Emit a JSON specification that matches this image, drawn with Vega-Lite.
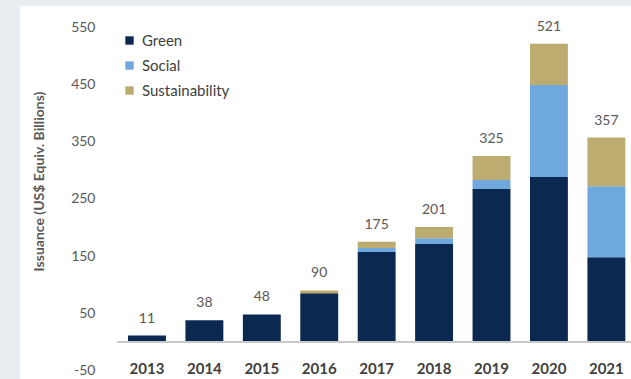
{
  "$schema": "https://vega.github.io/schema/vega-lite/v6.json",
  "width": 611,
  "height": 373,
  "autosize": {"type": "none"},
  "padding": {"left": 20, "top": 6, "right": 0, "bottom": 0},
  "background": "#e9edf1",
  "config": {
    "view": {"fill": "white", "stroke": null},
    "font": "Lato"
  },
  "data": {
    "values": [
      {"year": "2013", "type": "Green", "value": 11},
      {"year": "2014", "type": "Green", "value": 38},
      {"year": "2015", "type": "Green", "value": 48},
      {"year": "2016", "type": "Green", "value": 85},
      {"year": "2016", "type": "Sustainability", "value": 5},
      {"year": "2017", "type": "Green", "value": 157},
      {"year": "2017", "type": "Social", "value": 7},
      {"year": "2017", "type": "Sustainability", "value": 11},
      {"year": "2018", "type": "Green", "value": 171},
      {"year": "2018", "type": "Social", "value": 10},
      {"year": "2018", "type": "Sustainability", "value": 20},
      {"year": "2019", "type": "Green", "value": 267},
      {"year": "2019", "type": "Social", "value": 16},
      {"year": "2019", "type": "Sustainability", "value": 42},
      {"year": "2020", "type": "Green", "value": 288},
      {"year": "2020", "type": "Social", "value": 161},
      {"year": "2020", "type": "Sustainability", "value": 72},
      {"year": "2021", "type": "Green", "value": 148},
      {"year": "2021", "type": "Social", "value": 124},
      {"year": "2021", "type": "Sustainability", "value": 85}
    ]
  },
  "encoding": {
    "x": {
      "field": "year",
      "type": "nominal",
      "scale": {"paddingInner": 0.34, "paddingOuter": 0.99, "align": 0.95},
      "axis": {
        "title": null,
        "orient": "bottom",
        "offset": -11,
        "domain": false,
        "ticks": false,
        "labelPadding": 0,
        "labelBaseline": "middle",
        "labelAngle": 0,
        "labelFont": "Lato",
        "labelFontSize": 15,
        "labelFontWeight": "bold",
        "labelColor": "#404040"
      }
    }
  },
  "layer": [
    {
      "mark": {"type": "bar"},
      "encoding": {
        "y": {
          "field": "value",
          "type": "quantitative",
          "aggregate": "sum",
          "stack": "zero",
          "scale": {"domain": [-64.8, 587], "nice": false, "zero": false},
          "axis": {
            "title": "Issuance (US$ Equiv. Billions)",
            "values": [-50, 50, 150, 250, 350, 450, 550],
            "labelExpr": "'' + datum.value",
            "offset": -80,
            "domain": false,
            "ticks": false,
            "grid": false,
            "labelPadding": 5,
            "labelFont": "Lato",
            "labelFontSize": 14,
            "labelColor": "#595959",
            "labelFontWeight": "normal",
            "titleFont": "Lato",
            "titleFontSize": 14,
            "titleFontWeight": "bold",
            "titleColor": "#595959",
            "titleBaseline": "middle",
            "titleAnchor": null,
            "titleX": -61,
            "titleY": 175,
            "titleAngle": -90
          }
        },
        "color": {
          "field": "type",
          "type": "nominal",
          "scale": {
            "domain": ["Green", "Social", "Sustainability"],
            "range": ["#0a2850", "#6fa8dc", "#bdac70"]
          },
          "legend": {
            "title": null,
            "orient": "none",
            "legendX": 102,
            "legendY": 27,
            "symbolType": "square",
            "symbolSize": 70,
            "symbolStrokeWidth": 0,
            "labelFont": "Lato",
            "labelFontSize": 15,
            "labelColor": "#404040",
            "rowPadding": 9,
            "labelOffset": 5
          }
        },
        "order": {"field": "type", "type": "nominal", "sort": "ascending"}
      }
    },
    {
      "mark": {"type": "rule", "color": "#c8c8c8", "strokeWidth": 1.5, "xOffset": -11, "x2Offset": 6},
      "encoding": {
        "y": {"datum": 0, "type": "quantitative"},
        "x": {"datum": "2013", "bandPosition": 0},
        "x2": {"datum": "2021", "bandPosition": 1}
      }
    },
    {
      "mark": {"type": "text", "dy": -17, "baseline": "middle", "font": "Lato", "fontSize": 14, "fontWeight": "normal", "color": "#595959"},
      "encoding": {
        "y": {"field": "value", "type": "quantitative", "aggregate": "sum"},
        "text": {"field": "value", "type": "quantitative", "aggregate": "sum"}
      }
    }
  ]
}
